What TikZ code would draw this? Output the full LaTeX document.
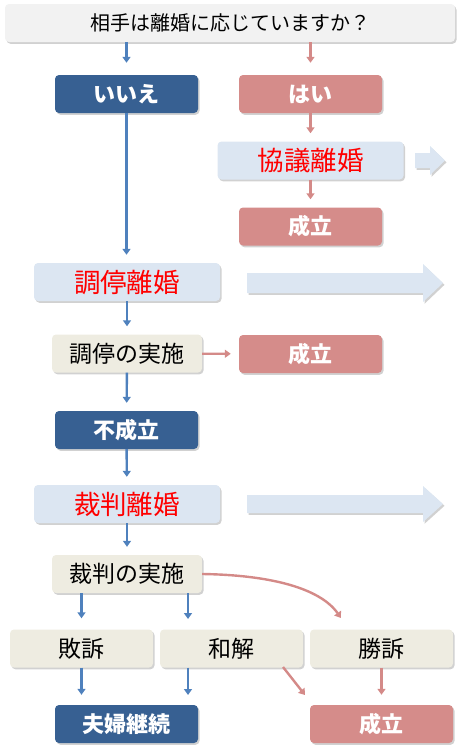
\documentclass[tikz,border=0pt]{standalone}
\usepackage{fontspec}
\setmainfont{Noto Sans CJK JP}
\usetikzlibrary{shadows,arrows.meta}
\definecolor{dkblue}{HTML}{376092}
\definecolor{rose}{HTML}{D58C8A}
\definecolor{ltblue}{HTML}{DCE6F2}
\definecolor{beige}{HTML}{EEECE1}
\definecolor{topgray}{HTML}{F2F2F2}
\definecolor{arrblue}{HTML}{4F81BD}
\definecolor{arrrose}{HTML}{D48A88}
\tikzset{
  shad/.style={drop shadow={shadow xshift=1.5pt,shadow yshift=-1.8pt,opacity=0.3,fill=black!60}},
  box/.style={rounded corners=4pt,shad,inner sep=0pt,minimum width=143pt,minimum height=38pt},
  bluebox/.style={box,fill=dkblue,text=white,font=\fontsize{22}{25}\selectfont\bfseries},
  rosebox/.style={box,fill=rose,text=white,font=\fontsize{22}{25}\selectfont\bfseries},
  ltbox/.style={box,fill=ltblue,text=red,minimum width=186pt,font=\fontsize{26.5}{29}\selectfont},
  bgbox/.style={box,fill=beige,text=black,minimum width=150pt,font=\fontsize{23}{26}\selectfont},
  barr/.style={draw=arrblue,line width=2.4pt,-{Triangle[width=8pt,length=6pt]},shorten >=8pt},
  rarr/.style={draw=arrrose,line width=2.4pt,-{Triangle[width=8pt,length=6pt]},shorten >=8pt},
  bigarr/.style={fill=ltblue,shad}
}
\begin{document}
\begin{tikzpicture}[x=1pt,y=-1pt]
\useasboundingbox (0,0) rectangle (464,753);
\node[box,fill=topgray,minimum width=450pt,font=\fontsize{20}{23}\selectfont] (q) at (230,23) {相手は離婚に応じていますか？};
\node[bluebox] (no) at (126.5,94) {いいえ};
\node[rosebox] (yes) at (310.5,94) {はい};
\node[ltbox] (kyogi) at (310.5,160.5) {協議離婚};
\node[rosebox] (sei1) at (310.5,226.5) {成立};
\node[ltbox] (chotei) at (127,282) {調停離婚};
\node[bgbox] (choteiJ) at (127,353.5) {調停の実施};
\node[rosebox] (sei2) at (310.5,354) {成立};
\node[bluebox] (fusei) at (126.5,430) {不成立};
\node[ltbox] (saiban) at (127,504) {裁判離婚};
\node[bgbox] (saibanJ) at (127,574) {裁判の実施};
\node[bgbox,minimum width=143pt] (haiso) at (81.5,648.5) {敗訴};
\node[bgbox,minimum width=143pt] (wakai) at (231.5,648.5) {和解};
\node[bgbox,minimum width=143pt] (shoso) at (381.5,648.5) {勝訴};
\node[bluebox] (fufu) at (126.5,724) {夫婦継続};
\node[rosebox] (sei3) at (381.5,724) {成立};
% block arrows
\path[bigarr] (415,153) -- (430,153) -- (430,146) -- (445,160.5) -- (430,175) -- (430,168) -- (415,168) -- cycle;
\path[bigarr] (247,273) -- (423,273) -- (423,264) -- (443,283) -- (423,302) -- (423,293) -- (247,293) -- cycle;
\path[bigarr] (247,495) -- (423,495) -- (423,486) -- (443,504) -- (423,522) -- (423,513) -- (247,513) -- cycle;
% connectors
\draw[barr,shorten >=12pt] (q.south -| no.north) -- (no.north);
\draw[rarr,shorten >=12pt] (q.south -| yes.north) -- (yes.north);
\draw[rarr] (yes) -- (kyogi);
\draw[rarr] (kyogi) -- (sei1);
\draw[barr] (no.south) -- (no.south |- chotei.north);
\draw[barr] (chotei) -- (choteiJ);
\draw[rarr] (choteiJ) -- (sei2);
\draw[barr] (choteiJ) -- (fusei);
\draw[barr] (fusei) -- (saiban);
\draw[barr] (saiban) -- (saibanJ);
\coordinate (c1) at (341,618);
\draw[rarr,shorten >=0pt] (saibanJ.east) .. controls (270,575) and (320,588) .. (c1);
\draw[barr,shorten >=11pt] (saibanJ.south -| haiso.north) -- (haiso.north);
\draw[barr,shorten >=11pt] (saibanJ.south -| 188,0) -- (188,630);
\draw[barr,shorten >=10pt] (haiso.south) -- (haiso.south |- fufu.north);
\draw[barr,shorten >=10pt] (wakai.south -| 188,0) -- (188,705);
\coordinate (c2) at (305,695);
\draw[rarr,shorten >=0pt] (283,667) -- (c2);
\draw[rarr,shorten >=10pt] (shoso.south) -- (sei3.north);
\end{tikzpicture}
\end{document}
